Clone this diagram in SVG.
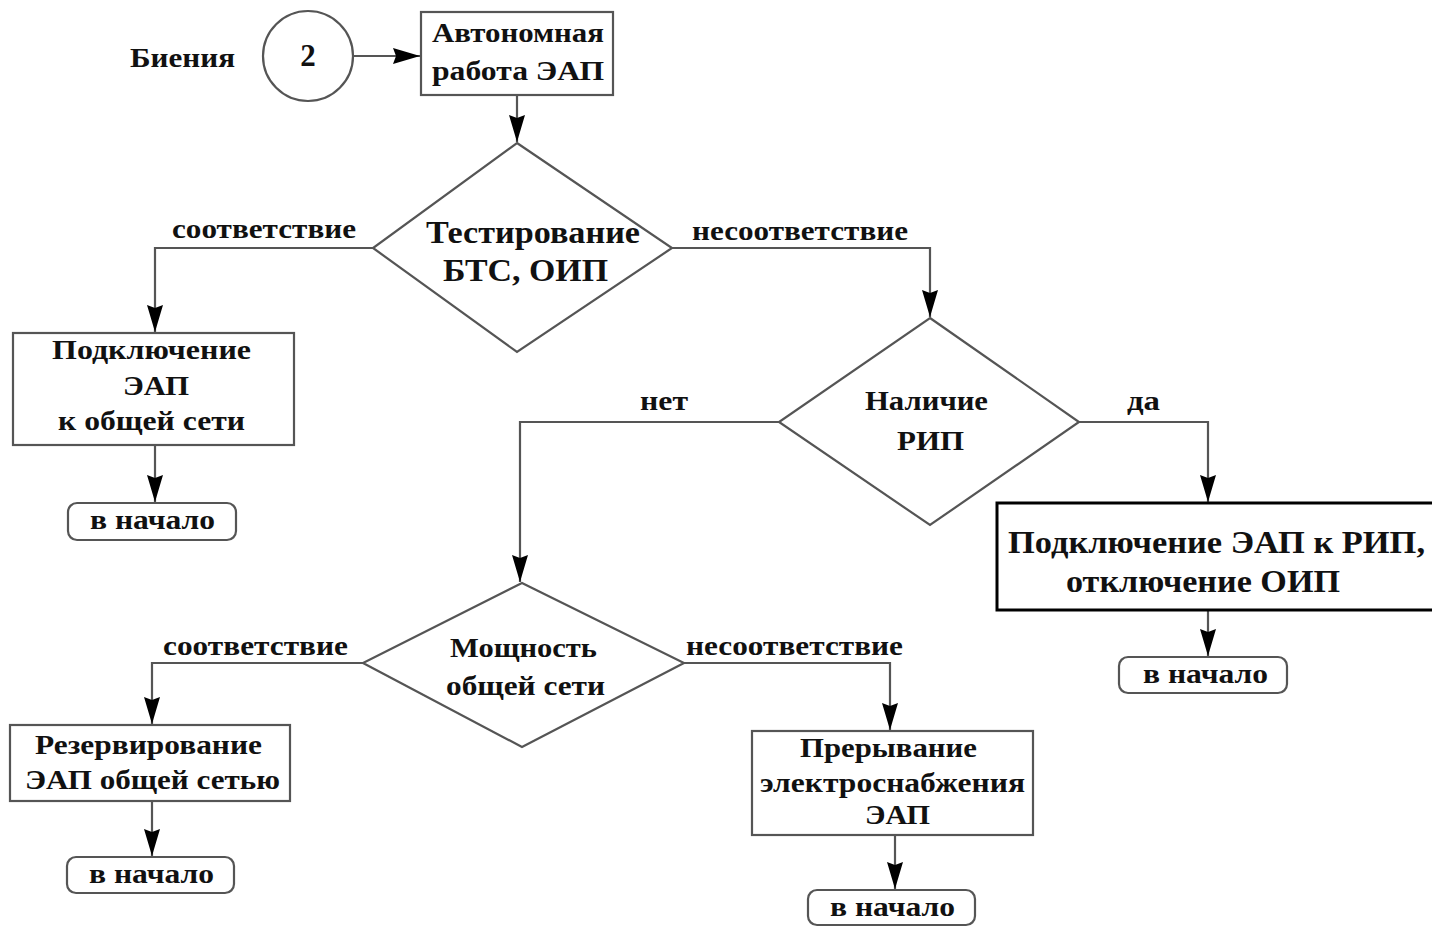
<svg xmlns="http://www.w3.org/2000/svg" width="1432" height="927" viewBox="0 0 1432 927">
  <defs>
    <marker id="arrow" markerUnits="userSpaceOnUse" markerWidth="30" markerHeight="18" refX="27" refY="8" orient="auto">
      <path d="M0,0 L27,8 L0,16 L3,8 z" fill="#000"/>
    </marker>
    <style>
      .box { fill: #fff; stroke: #555; stroke-width: 2.2; }
      .boxbold { fill: #fff; stroke: #000; stroke-width: 3; }
      .term { fill: #fff; stroke: #555; stroke-width: 2.2; }
      .conn { fill: none; stroke: #555; stroke-width: 2.2; marker-end: url(#arrow); }
      text { font-family: "Liberation Serif", "DejaVu Serif", serif; font-weight: bold; fill: #111; }
      .t26 { font-size: 27px; }
      .t30 { font-size: 31px; }
      .c { text-anchor: middle; }
    </style>
  </defs>
  <rect width="1432" height="927" fill="#fff"/>

  <!-- connectors -->
  <g id="connectors">
    <path class="conn" d="M352,56 H420"/>
    <path class="conn" d="M517,95 V142"/>
    <path class="conn" d="M373,248 H155 V332"/>
    <path class="conn" d="M155,445 V502"/>
    <path class="conn" d="M672,248 H930 V317"/>
    <path class="conn" d="M779,422 H520 V582"/>
    <path class="conn" d="M1079,422 H1208 V502"/>
    <path class="conn" d="M1208,610 V656"/>
    <path class="conn" d="M363,663 H152 V724"/>
    <path class="conn" d="M152,801 V856"/>
    <path class="conn" d="M684,663 H890 V730"/>
    <path class="conn" d="M895,835 V889"/>
  </g>

  <!-- connector labels -->
  <g id="labels">
    <text class="t26" x="172" y="238" textLength="184" lengthAdjust="spacingAndGlyphs">соответствие</text>
    <text class="t26" x="692" y="240" textLength="216" lengthAdjust="spacingAndGlyphs">несоответствие</text>
    <text class="t26" x="640" y="410" textLength="48" lengthAdjust="spacingAndGlyphs">нет</text>
    <text class="t26" x="1127" y="410" textLength="33" lengthAdjust="spacingAndGlyphs">да</text>
    <text class="t26" x="163" y="655" textLength="185" lengthAdjust="spacingAndGlyphs">соответствие</text>
    <text class="t26" x="686" y="655" textLength="217" lengthAdjust="spacingAndGlyphs">несоответствие</text>
  </g>

  <!-- entry point -->
  <g id="beats">
    <text class="t26" x="130" y="67" textLength="105" lengthAdjust="spacingAndGlyphs">Биения</text>
  </g>
  <g id="connector-2">
    <circle cx="308" cy="56" r="45" fill="#fff" stroke="#555" stroke-width="2.2"/>
    <text class="t30 c" x="308" y="66">2</text>
  </g>

  <g id="autonomous">
    <rect class="box" x="421" y="12" width="192" height="83"/>
    <text class="t26" x="432" y="42" textLength="172" lengthAdjust="spacingAndGlyphs">Автономная</text>
    <text class="t26" x="432" y="80" textLength="172" lengthAdjust="spacingAndGlyphs">работа ЭАП</text>
  </g>

  <g id="test">
    <polygon class="box" points="517,143 672,248 517,352 373,248"/>
    <text class="t30" x="426" y="243" textLength="214" lengthAdjust="spacingAndGlyphs">Тестирование</text>
    <text class="t30" x="443" y="281" textLength="165" lengthAdjust="spacingAndGlyphs">БТС, ОИП</text>
  </g>

  <g id="connect-grid">
    <rect class="box" x="13" y="333" width="281" height="112"/>
    <text class="t26" x="52" y="359" textLength="199" lengthAdjust="spacingAndGlyphs">Подключение</text>
    <text class="t26" x="123" y="395" textLength="66" lengthAdjust="spacingAndGlyphs">ЭАП</text>
    <text class="t26" x="58" y="430" textLength="187" lengthAdjust="spacingAndGlyphs">к общей сети</text>
  </g>

  <g id="start-1">
    <rect class="term" x="68" y="503" width="168" height="37" rx="9"/>
    <text class="t26" x="90" y="529" textLength="125" lengthAdjust="spacingAndGlyphs">в начало</text>
  </g>

  <g id="rip-check">
    <polygon class="box" points="930,318 1079,422 930,525 779,422"/>
    <text class="t26" x="865" y="410" textLength="123" lengthAdjust="spacingAndGlyphs">Наличие</text>
    <text class="t26" x="897" y="450" textLength="67" lengthAdjust="spacingAndGlyphs">РИП</text>
  </g>

  <g id="connect-rip">
    <rect class="boxbold" x="997" y="503" width="440" height="107"/>
    <text class="t30" x="1008" y="553" textLength="417" lengthAdjust="spacingAndGlyphs">Подключение ЭАП к РИП,</text>
    <text class="t30" x="1066" y="592" textLength="274" lengthAdjust="spacingAndGlyphs">отключение ОИП</text>
  </g>

  <g id="start-2">
    <rect class="term" x="1119" y="657" width="168" height="36" rx="9"/>
    <text class="t26" x="1143" y="683" textLength="125" lengthAdjust="spacingAndGlyphs">в начало</text>
  </g>

  <g id="power-check">
    <polygon class="box" points="522,583 684,663 522,747 363,663"/>
    <text class="t26" x="450" y="657" textLength="147" lengthAdjust="spacingAndGlyphs">Мощность</text>
    <text class="t26" x="446" y="695" textLength="159" lengthAdjust="spacingAndGlyphs">общей сети</text>
  </g>

  <g id="reserve">
    <rect class="box" x="10" y="725" width="280" height="76"/>
    <text class="t26" x="35" y="754" textLength="227" lengthAdjust="spacingAndGlyphs">Резервирование</text>
    <text class="t26" x="25" y="789" textLength="255" lengthAdjust="spacingAndGlyphs">ЭАП общей сетью</text>
  </g>

  <g id="start-3">
    <rect class="term" x="67" y="857" width="167" height="36" rx="9"/>
    <text class="t26" x="89" y="883" textLength="125" lengthAdjust="spacingAndGlyphs">в начало</text>
  </g>

  <g id="interrupt">
    <rect class="box" x="752" y="731" width="281" height="104"/>
    <text class="t26" x="800" y="757" textLength="177" lengthAdjust="spacingAndGlyphs">Прерывание</text>
    <text class="t26" x="760" y="792" textLength="265" lengthAdjust="spacingAndGlyphs">электроснабжения</text>
    <text class="t26" x="865" y="824" textLength="65" lengthAdjust="spacingAndGlyphs">ЭАП</text>
  </g>

  <g id="start-4">
    <rect class="term" x="808" y="890" width="167" height="35" rx="9"/>
    <text class="t26" x="830" y="916" textLength="125" lengthAdjust="spacingAndGlyphs">в начало</text>
  </g>
</svg>
